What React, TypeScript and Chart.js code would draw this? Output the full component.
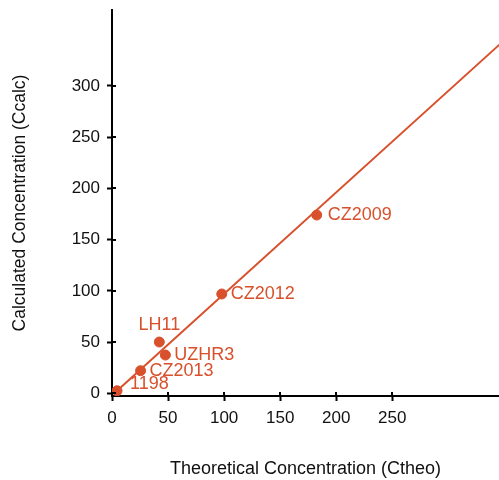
import React, { useEffect, useRef } from "react";
import { Chart, registerables } from "chart.js";

Chart.register(...registerables);

const sampleNames = ["1198", "CZ2013", "UZHR3", "LH11", "CZ2012", "CZ2009"];
const theoretical = [4.5, 25.5, 47.6, 42.2, 97.9, 182.6];
const calculated = [2.4, 22, 37.3, 50, 96.9, 174];
const fitX = [4.5, 350];
const fitY = [2.4, 344.8];
const xTicks = [0, 50, 100, 150, 200, 250];
const yTicks = [0, 50, 100, 150, 200, 250, 300];
const labelAlign = ["left", "left", "left", "center", "left", "left"];
const labelDx = [13, 9, 9, 0, 9, 11];
const labelDy = [-7, 0, 0, -17, 0, 0];

const ORANGE = "#d8502c";
const FONT = "'Liberation Sans', Arial, sans-serif";

const labelPlugin = {
  id: "pointLabels",
  afterDatasetsDraw(chart: any) {
    const meta = chart.getDatasetMeta(1);
    const ctx = chart.ctx;
    ctx.save();
    ctx.fillStyle = ORANGE;
    ctx.font = `18px ${FONT}`;
    ctx.textBaseline = "middle";
    meta.data.forEach((el: any, i: number) => {
      ctx.textAlign = labelAlign[i];
      ctx.fillText(sampleNames[i], el.x + labelDx[i], el.y + labelDy[i]);
    });
    ctx.restore();
  },
};

const innerTickPlugin = {
  id: "innerTicks",
  afterDraw(chart: any) {
    const ctx = chart.ctx;
    const xs = chart.scales.x;
    const ys = chart.scales.y;
    ctx.save();
    ctx.strokeStyle = "#000";
    ctx.lineWidth = 2;
    ctx.beginPath();
    xTicks.forEach((v) => {
      const px = Math.round(xs.getPixelForValue(v));
      ctx.moveTo(px, chart.chartArea.bottom);
      ctx.lineTo(px, chart.chartArea.bottom - 4);
    });
    yTicks.forEach((v) => {
      const py = Math.round(ys.getPixelForValue(v));
      ctx.moveTo(chart.chartArea.left, py);
      ctx.lineTo(chart.chartArea.left + 4, py);
    });
    ctx.stroke();
    ctx.restore();
  },
};

export default function App() {
  const ref = useRef<HTMLCanvasElement>(null);
  useEffect(() => {
    if (!ref.current) return;
    const chart = new Chart(ref.current, {
      type: "scatter",
      data: {
        datasets: [
          {
            type: "line",
            data: fitX.map((x, i) => ({ x, y: fitY[i] })),
            borderColor: ORANGE,
            borderWidth: 2,
            pointRadius: 0,
            fill: false,
          } as any,
          {
            data: theoretical.map((x, i) => ({ x, y: calculated[i] })),
            backgroundColor: ORANGE,
            borderColor: ORANGE,
            pointRadius: 5,
            pointHoverRadius: 5,
          },
        ],
      },
      options: {
        animation: false,
        responsive: false,
        layout: { autoPadding: false, padding: { top: 10, left: 0, right: 0, bottom: 0 } },
        plugins: { legend: { display: false }, tooltip: { enabled: false } },
        scales: {
          x: {
            type: "linear",
            min: 0,
            max: 345.2,
            afterBuildTicks: (s: any) => {
              s.ticks = xTicks.map((v) => ({ value: v }));
            },
            afterFit: (s: any) => {
              s.height = 84;
              s.paddingLeft = 0;
              s.paddingRight = 0;
            },
            grid: { drawOnChartArea: false, tickLength: 5, tickWidth: 2, tickColor: "#000" },
            border: { color: "#000", width: 2 },
            ticks: { color: "#111", font: { size: 17, family: FONT }, padding: 7, maxRotation: 0 },
            title: {
              display: true,
              text: "Theoretical Concentration (Ctheo)",
              color: "#111",
              font: { size: 18, family: FONT },
              padding: 0,
            },
          },
          y: {
            type: "linear",
            min: -2.7,
            max: 374.2,
            afterBuildTicks: (s: any) => {
              s.ticks = yTicks.map((v) => ({ value: v }));
            },
            afterFit: (s: any) => {
              s.width = 112;
              s.paddingTop = 0;
              s.paddingBottom = 0;
            },
            grid: { drawOnChartArea: false, tickLength: 5, tickWidth: 2, tickColor: "#000" },
            border: { color: "#000", width: 2 },
            ticks: { color: "#111", font: { size: 17, family: FONT }, padding: 7 },
            title: {
              display: true,
              text: "Calculated Concentration (Ccalc)",
              color: "#111",
              font: { size: 17.5, family: FONT },
              padding: { top: 10, bottom: 0 },
            },
          },
        },
      },
      plugins: [labelPlugin, innerTickPlugin],
    });
    return () => chart.destroy();
  }, []);
  return (
    <div style={{ position: "fixed", left: 0, top: 0, width: 499, height: 480, background: "#fff" }}>
      <canvas ref={ref} width={499} height={480} style={{ display: "block" }} />
    </div>
  );
}
